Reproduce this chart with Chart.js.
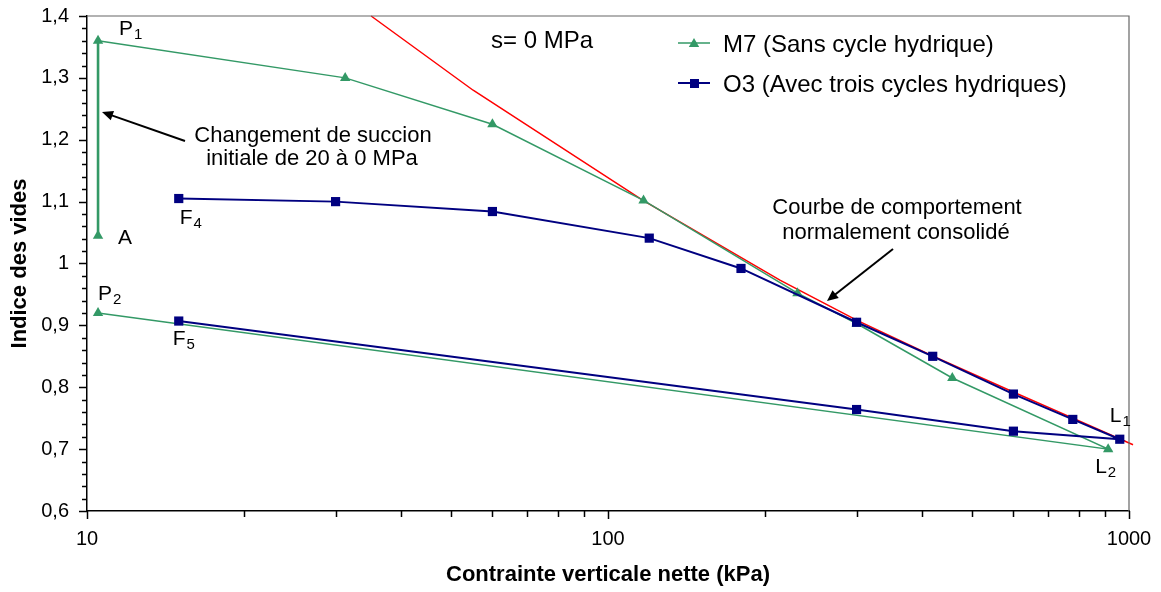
<!DOCTYPE html>
<html>
<head>
<meta charset="utf-8">
<script src="https://cdn.jsdelivr.net/npm/chart.js@4/dist/chart.umd.min.js"></script>
<style>
html, body { margin: 0; padding: 0; background: #fff; }
canvas { display: block; }
</style>
</head>
<body>
<canvas id="myChart" width="1161" height="592"></canvas>
<script>
// data
const m7Stress = [10.5, 10.5, 31.3, 60, 117, 231, 300, 458, 912, 10.5];
const m7Void = [1.045, 1.36, 1.30, 1.225, 1.102, 0.952, 0.903, 0.815, 0.700, 0.920];

const o3Stress = [15, 30, 60, 120, 180, 300, 420, 600, 780, 960, 600, 300, 15];
const o3Void = [1.105, 1.10, 1.084, 1.041, 0.992, 0.905, 0.850, 0.789, 0.748, 0.716, 0.729, 0.764, 0.907];

const nclStress = [35.1, 55.1, 116.7, 213.8, 300.6, 418.8, 601, 780.6, 1018];
const nclVoid = [1.40, 1.280, 1.102, 0.973, 0.908, 0.851, 0.792, 0.750, 0.707];

const xMajor = [10, 100, 1000];
const yTicks = [0.6, 0.7, 0.8, 0.9, 1, 1.1, 1.2, 1.3, 1.4];

const seriesNames = ['M7 (Sans cycle hydrique)', 'O3 (Avec trois cycles hydriques)'];

const GREEN = '#339966';
const NAVY = '#000080';
const RED = '#ff0000';
const FONT = "'Liberation Sans', Arial, Helvetica, sans-serif";

Chart.defaults.font.family = FONT;
Chart.defaults.color = '#000';

const toPts = (xs, ys) => xs.map((v, i) => ({x: v, y: ys[i]}));

function triangle(ctx, cx, cy, r) {
    ctx.beginPath();
    ctx.moveTo(cx, cy - r);
    ctx.lineTo(cx + r * 0.866, cy + r * 0.5);
    ctx.lineTo(cx - r * 0.866, cy + r * 0.5);
    ctx.closePath();
    ctx.fill();
}

function arrow(ctx, x0, y0, x1, y1) {
    const ang = Math.atan2(y1 - y0, x1 - x0);
    const len = 11, half = 5;
    ctx.beginPath();
    ctx.moveTo(x0, y0);
    ctx.lineTo(x1 - Math.cos(ang) * len * 0.8, y1 - Math.sin(ang) * len * 0.8);
    ctx.stroke();
    ctx.beginPath();
    ctx.moveTo(x1, y1);
    ctx.lineTo(x1 - Math.cos(ang) * len + Math.sin(ang) * half, y1 - Math.sin(ang) * len - Math.cos(ang) * half);
    ctx.lineTo(x1 - Math.cos(ang) * len - Math.sin(ang) * half, y1 - Math.sin(ang) * len + Math.cos(ang) * half);
    ctx.closePath();
    ctx.fill();
}

function subLabel(ctx, main, s, px, py) {
    ctx.font = '21px ' + FONT;
    ctx.textAlign = 'left';
    ctx.textBaseline = 'alphabetic';
    ctx.fillText(main, px, py);
    const w = ctx.measureText(main).width;
    if (s) {
        ctx.font = '15px ' + FONT;
        ctx.fillText(s, px + w + 1, py + 4);
    }
}

const overlay = {
    id: 'overlay',
    afterDraw(chart) {
        const {ctx, chartArea: a, scales: {x, y}} = chart;
        ctx.save();

        // top / right frame
        ctx.strokeStyle = '#666';
        ctx.lineWidth = 1.2;
        ctx.beginPath();
        ctx.moveTo(a.left, a.top);
        ctx.lineTo(a.right, a.top);
        ctx.lineTo(a.right, a.bottom);
        ctx.stroke();

        // tick marks
        ctx.strokeStyle = '#000';
        ctx.lineWidth = 1.5;
        ctx.beginPath();
        for (let k = 0; k <= 40; k++) {
            const v = 0.6 + k * 0.02;
            const py = Math.round(y.getPixelForValue(v)) + 0.5;
            const len = (k % 5 === 0) ? 8 : 5;
            ctx.moveTo(a.left - len, py);
            ctx.lineTo(a.left, py);
        }
        for (let d = 10; d < 1000; d *= 10) {
            for (let m = 1; m <= 10; m++) {
                const px = Math.round(x.getPixelForValue(d * m)) + 0.5;
                const len = (m === 1 || m === 10) ? 8 : 6;
                ctx.moveTo(px, a.bottom);
                ctx.lineTo(px, a.bottom + len);
            }
        }
        ctx.stroke();

        // point labels
        ctx.fillStyle = '#000';
        const px = (v) => x.getPixelForValue(v);
        const py = (v) => y.getPixelForValue(v);
        subLabel(ctx, 'P', '1', px(m7Stress[1]) + 21, py(m7Void[1]) - 6);
        subLabel(ctx, 'A', '', px(m7Stress[0]) + 20, py(m7Void[0]) + 8);
        subLabel(ctx, 'F', '4', px(o3Stress[0]) + 1, py(o3Void[0]) + 25);
        subLabel(ctx, 'P', '2', px(m7Stress[9]), py(m7Void[9]) - 13);
        subLabel(ctx, 'F', '5', px(o3Stress[12]) - 6, py(o3Void[12]) + 24);
        subLabel(ctx, 'L', '1', px(o3Stress[9]) - 10, py(o3Void[9]) - 17);
        subLabel(ctx, 'L', '2', px(m7Stress[8]) - 13, py(m7Void[8]) + 24);

        // annotations
        ctx.textAlign = 'center';
        ctx.textBaseline = 'alphabetic';
        ctx.font = '24px ' + FONT;
        ctx.fillText('s= 0 MPa', 542, 48);
        ctx.font = '22px ' + FONT;
        ctx.fillText('Changement de succion', 313, 142);
        ctx.fillText('initiale de 20 à 0 MPa', 312, 165);
        ctx.fillText('Courbe de comportement', 897, 214);
        ctx.fillText('normalement consolidé', 896, 239);

        ctx.strokeStyle = '#000';
        ctx.lineWidth = 2;
        arrow(ctx, 185, 141, 102, 112);
        arrow(ctx, 893, 249, 827, 301);

        // legend
        const rows = [[GREEN, 43, 'tri'], [NAVY, 83, 'sq']];
        rows.forEach(([col, ly, shape], i) => {
            ctx.strokeStyle = col;
            ctx.fillStyle = col;
            ctx.lineWidth = i === 0 ? 1.5 : 2;
            ctx.beginPath();
            ctx.moveTo(678, ly);
            ctx.lineTo(710, ly);
            ctx.stroke();
            if (shape === 'tri') triangle(ctx, 694, ly + 1, 6);
            else ctx.fillRect(690, ly - 4, 9, 9);
            ctx.fillStyle = '#000';
            ctx.font = '24px ' + FONT;
            ctx.textAlign = 'left';
            ctx.textBaseline = 'alphabetic';
            ctx.fillText(seriesNames[i], 723, ly + 9);
        });

        ctx.restore();
    }
};

const ctx = document.getElementById('myChart');
const myChart = new Chart(ctx, {
    type: 'line',
    data: {
        datasets: [
            {
                label: seriesNames[1],
                data: toPts(o3Stress, o3Void),
                borderColor: NAVY,
                backgroundColor: NAVY,
                borderWidth: 2,
                pointStyle: 'rect',
                pointRadius: 6.5,
                pointBorderWidth: 0,
                tension: 0
            },
            {
                label: seriesNames[0],
                data: toPts(m7Stress, m7Void),
                borderColor: GREEN,
                backgroundColor: GREEN,
                borderWidth: 1.5,
                pointStyle: 'triangle',
                pointRadius: 6,
                pointBorderWidth: 0,
                tension: 0,
                segment: {
                    borderWidth: c => c.p0DataIndex === 0 ? 2.6 : 1.5
                }
            },
            {
                label: 'NCL',
                data: toPts(nclStress, nclVoid),
                borderColor: RED,
                borderWidth: 1.5,
                pointRadius: 0,
                tension: 0,
                clip: false
            }
        ]
    },
    options: {
        responsive: false,
        animation: false,
        layout: {
            padding: {top: 16, right: 32, left: 0, bottom: 0}
        },
        scales: {
            x: {
                type: 'logarithmic',
                min: 10,
                max: 1000,
                grid: {
                    drawOnChartArea: false,
                    drawTicks: false
                },
                border: {display: true, color: '#000', width: 1.5},
                ticks: {
                    autoSkip: false,
                    maxRotation: 0,
                    padding: 16,
                    font: {size: 20},
                    callback: v => xMajor.includes(v) ? String(v) : ''
                },
                title: {
                    display: true,
                    text: 'Contrainte verticale nette (kPa)',
                    font: {size: 22, weight: 'bold'},
                    padding: {top: 0, bottom: 4}
                },
                afterFit: s => {
                    s.height = 81;
                    s.paddingLeft = 0;
                    s.paddingRight = 0;
                }
            },
            y: {
                min: 0.6,
                max: 1.4,
                grid: {
                    drawOnChartArea: false,
                    drawTicks: false
                },
                border: {display: true, color: '#000', width: 1.5},
                ticks: {
                    stepSize: 0.1,
                    padding: 18,
                    font: {size: 20},
                    callback: v => {
                        const r = Math.round(v * 10) / 10;
                        return yTicks.includes(r) ? String(r).replace('.', ',') : '';
                    }
                },
                title: {
                    display: true,
                    text: 'Indice des vides',
                    font: {size: 22, weight: 'bold'},
                    padding: {top: 7, bottom: 0}
                },
                afterFit: s => {
                    s.width = 87;
                    s.paddingTop = 0;
                    s.paddingBottom = 0;
                }
            }
        },
        plugins: {
            legend: {display: false},
            tooltip: {enabled: false}
        }
    },
    plugins: [overlay]
});
</script>
</body>
</html>
